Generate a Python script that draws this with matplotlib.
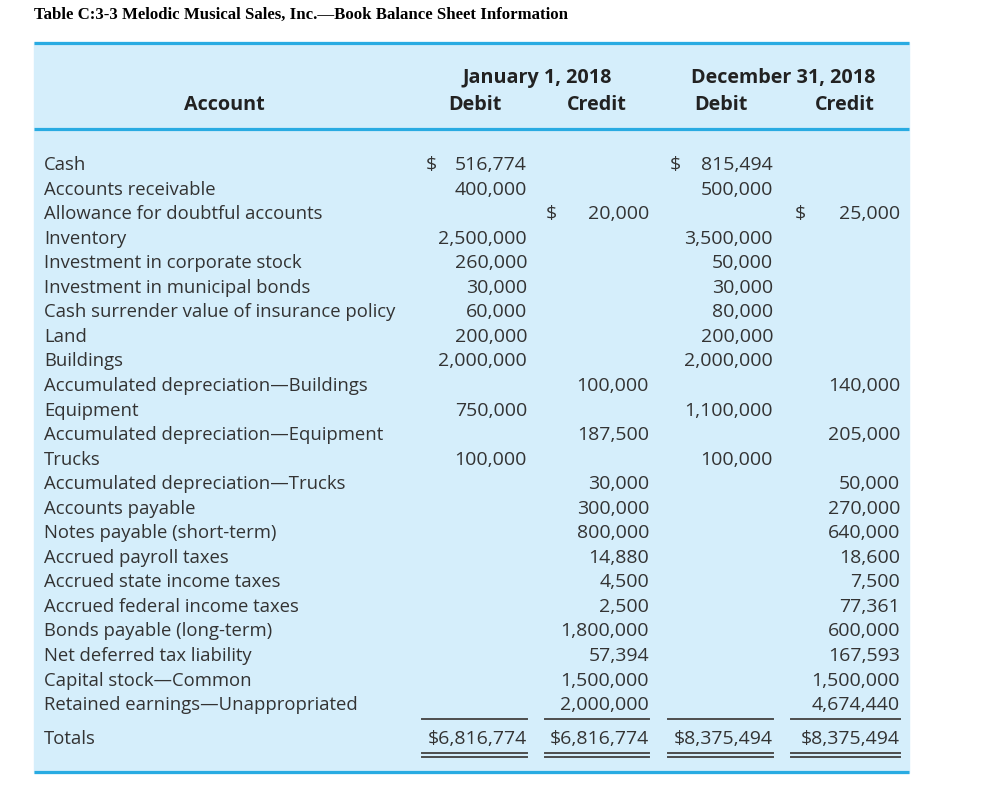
import matplotlib
matplotlib.use("Agg")
import matplotlib.pyplot as plt

title = "Table C:3-3 Melodic Musical Sales, Inc.\u2014Book Balance Sheet Information"
periods = ["January 1, 2018", "December 31, 2018"]
col_heads = ["Debit", "Credit", "Debit", "Credit"]

accounts = [
    "Cash",
    "Accounts receivable",
    "Allowance for doubtful accounts",
    "Inventory",
    "Investment in corporate stock",
    "Investment in municipal bonds",
    "Cash surrender value of insurance policy",
    "Land",
    "Buildings",
    "Accumulated depreciation\u2014Buildings",
    "Equipment",
    "Accumulated depreciation\u2014Equipment",
    "Trucks",
    "Accumulated depreciation\u2014Trucks",
    "Accounts payable",
    "Notes payable (short-term)",
    "Accrued payroll taxes",
    "Accrued state income taxes",
    "Accrued federal income taxes",
    "Bonds payable (long-term)",
    "Net deferred tax liability",
    "Capital stock\u2014Common",
    "Retained earnings\u2014Unappropriated",
]
jan_debit = [516774, 400000, None, 2500000, 260000, 30000, 60000, 200000, 2000000,
             None, 750000, None, 100000, None, None, None, None, None, None, None,
             None, None, None]
jan_credit = [None, None, 20000, None, None, None, None, None, None, 100000, None,
              187500, None, 30000, 300000, 800000, 14880, 4500, 2500, 1800000,
              57394, 1500000, 2000000]
dec_debit = [815494, 500000, None, 3500000, 50000, 30000, 80000, 200000, 2000000,
             None, 1100000, None, 100000, None, None, None, None, None, None, None,
             None, None, None]
dec_credit = [None, None, 25000, None, None, None, None, None, None, 140000, None,
              205000, None, 50000, 270000, 640000, 18600, 7500, 77361, 600000,
              167593, 1500000, 4674440]
totals = [6816774, 6816774, 8375494, 8375494]

W, H = 989, 792
fig = plt.figure(figsize=(W / 100, H / 100), dpi=100)
ax = fig.add_axes([0, 0, 1, 1])
ax.set_xlim(0, W)
ax.set_ylim(H, 0)
ax.axis("off")

blue = "#29abe2"
bg = "#d5eefb"
txt = "#333333"
sans = ["Open Sans", "DejaVu Sans"]

ax.add_patch(plt.Rectangle((34, 42), 875, 731, color=bg, zorder=0))
for y in (43, 129, 772):
    ax.plot([34, 909], [y, y], color=blue, lw=2.3, solid_capstyle="butt")

ax.text(34, 14.5, title, family="Liberation Serif", weight="bold", fontsize=12.1,
        va="center", ha="left", color="black")

hfs = 14.2
ax.text(537, 77.5, periods[0], family=sans, weight="bold", fontsize=hfs, ha="center", va="center", color="#222222")
ax.text(783, 77.5, periods[1], family=sans, weight="bold", fontsize=hfs, ha="center", va="center", color="#222222")
ax.text(224, 105.5, "Account", family=sans, weight="bold", fontsize=hfs, ha="center", va="center", color="#222222")
for xc, h in zip([475, 597, 721, 845], col_heads):
    ax.text(xc, 105.5, h, family=sans, weight="bold", fontsize=hfs, ha="center", va="center", color="#222222")

cols = [jan_debit, jan_credit, dec_debit, dec_credit]
right = [527, 649, 773, 900]
left = [422, 545, 668, 791]
dollar_x = [426, 546, 670, 795]

# baselines of the body rows
b0, dy = 170, 24.55
fs = 13.3
nfs = 14
for i, name in enumerate(accounts):
    y = b0 + i * dy
    ax.text(44, y, name, family=sans, fontsize=fs, ha="left", va="baseline", color=txt)
for c, vals in enumerate(cols):
    first = True
    for i, v in enumerate(vals):
        if v is None:
            continue
        y = b0 + i * dy
        ax.text(right[c], y, f"{v:,}", family=sans, fontsize=nfs, ha="right", va="baseline", color=txt)
        if first:
            ax.text(dollar_x[c], y, "$", family=sans, fontsize=nfs, ha="left", va="baseline", color=txt)
            first = False

ty = 744
ax.text(44, ty, "Totals", family=sans, fontsize=fs, ha="left", va="baseline", color=txt)
for c, t in enumerate(totals):
    ax.text(right[c], ty, f"${t:,}", family=sans, fontsize=nfs, ha="right", va="baseline", color=txt)
    ax.plot([left[c], right[c]], [719, 719], color="#4d4d4d", lw=1.4)
    ax.plot([left[c], right[c]], [753, 753], color="#4d4d4d", lw=1.4)
    ax.plot([left[c], right[c]], [756.5, 756.5], color="#4d4d4d", lw=1.4)

fig.savefig("out.png", dpi=100)
